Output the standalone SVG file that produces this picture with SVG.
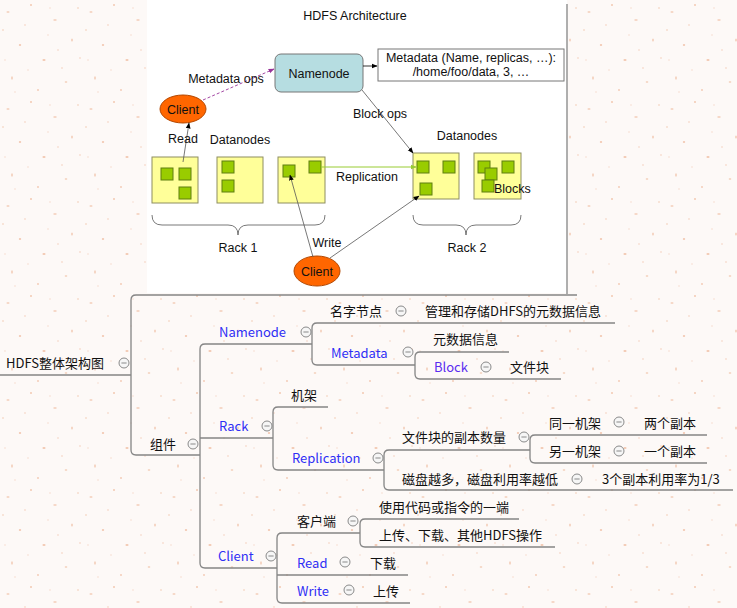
<svg xmlns="http://www.w3.org/2000/svg" width="737" height="608" viewBox="0 0 737 608">
<defs>
<pattern id="paper" x="0" y="0" width="83" height="97" patternUnits="userSpaceOnUse">
<rect width="83" height="97" fill="#fdf9f7"/>
<g fill="#f3c9b2">
<ellipse cx="8" cy="12" rx="1.6" ry="0.8"/>
<ellipse cx="31" cy="5" rx="1" ry="1"/>
<ellipse cx="55" cy="20" rx="1.8" ry="0.7"/>
<ellipse cx="72" cy="40" rx="0.8" ry="1.6"/>
<ellipse cx="20" cy="45" rx="1.2" ry="0.9"/>
<ellipse cx="44" cy="60" rx="1.6" ry="1"/>
<ellipse cx="12" cy="78" rx="0.8" ry="1.8"/>
<ellipse cx="66" cy="82" rx="1.3" ry="0.8"/>
<ellipse cx="38" cy="90" rx="0.9" ry="0.9"/>
<ellipse cx="78" cy="8" rx="0.8" ry="0.8"/>
<ellipse cx="3" cy="30" rx="0.8" ry="0.8"/>
<ellipse cx="58" cy="50" rx="0.7" ry="0.7"/>
</g>
<g fill="#f8ddd0">
<circle cx="25" cy="25" r="0.9"/><circle cx="48" cy="35" r="0.8"/><circle cx="62" cy="68" r="0.9"/>
<circle cx="28" cy="70" r="0.8"/><circle cx="80" cy="58" r="0.9"/><circle cx="5" cy="60" r="0.8"/>
<circle cx="50" cy="8" r="0.8"/><circle cx="15" cy="92" r="0.8"/>
</g>
</pattern>
<marker id="ah" viewBox="0 0 10 10" refX="9" refY="5" markerWidth="6" markerHeight="6" orient="auto" markerUnits="userSpaceOnUse">
<path d="M0,1 L10,5 L0,9 z" fill="#000"/>
</marker>
<marker id="ahp" viewBox="0 0 10 10" refX="9" refY="5" markerWidth="6" markerHeight="6" orient="auto" markerUnits="userSpaceOnUse">
<path d="M0,1 L10,5 L0,9 z" fill="#993399"/>
</marker>
<marker id="ahg" viewBox="0 0 10 10" refX="9" refY="5" markerWidth="6" markerHeight="6" orient="auto" markerUnits="userSpaceOnUse">
<path d="M0,1 L10,5 L0,9 z" fill="#99cc33"/>
</marker>
<symbol id="tog" overflow="visible">
<circle cx="0" cy="0" r="5" fill="#f6f6f6" stroke="#8a8a8a" stroke-width="1"/>
<line x1="-2.6" y1="0" x2="2.6" y2="0" stroke="#8a8a8a" stroke-width="1"/>
</symbol>
</defs>
<style>
.en{font-family:"Liberation Sans",Arial,sans-serif;font-size:12.5px;fill:#111}
.mm{font-family:"Noto Sans CJK SC","Noto Sans",sans-serif;font-size:13px;fill:#111}
.bl{fill:#2f2ff5}
.ln{fill:none;stroke:#858585;stroke-width:1.3}
.rk{fill:#ffff99;stroke:#8e8e60;stroke-width:1}
.bk{fill:#99cc00;stroke:#5f7f10;stroke-width:1}
.cl{fill:#ff6600;stroke:#b34700;stroke-width:1}
.th{fill:none;stroke:#555;stroke-width:0.8}
</style>
<rect width="737" height="608" fill="url(#paper)"/>

<!-- embedded architecture picture -->
<g id="hdfs-architecture">
<rect x="147" y="0" width="420" height="293" fill="#ffffff"/>
<text class="en" x="355" y="20" text-anchor="middle">HDFS Architecture</text>
<g id="namenode">
<rect x="275" y="54" width="88" height="38" rx="6" fill="#b6dde1" stroke="#777" stroke-width="1"/>
<text class="en" x="319" y="78" text-anchor="middle">Namenode</text>
</g>
<g id="metadata-box">
<rect x="378" y="49" width="186" height="32" fill="#fff" stroke="#777" stroke-width="1"/>
<text class="en" x="471" y="62" text-anchor="middle">Metadata (Name, replicas, …):</text>
<text class="en" x="471" y="76" text-anchor="middle">/home/foo/data, 3, …</text>
</g>
<g id="client-top">
<ellipse class="cl" cx="183" cy="109" rx="23" ry="14"/>
<text class="en" x="183" y="113.5" text-anchor="middle">Client</text>
</g>
<g id="client-bottom">
<ellipse class="cl" cx="317" cy="271" rx="23" ry="15"/>
<text class="en" x="317" y="275.5" text-anchor="middle">Client</text>
</g>
<g id="rack1">
<rect class="rk" x="152" y="157" width="46" height="46"/>
<rect class="bk" x="161" y="168" width="12" height="12"/>
<rect class="bk" x="179" y="168" width="12" height="12"/>
<rect class="bk" x="179" y="187" width="12" height="12"/>
<rect class="rk" x="217" y="157" width="46" height="46"/>
<rect class="bk" x="222" y="161" width="12" height="12"/>
<rect class="bk" x="222" y="180" width="12" height="12"/>
<rect class="rk" x="278" y="157" width="47" height="46"/>
<rect class="bk" x="283" y="165" width="12" height="12"/>
<rect class="bk" x="309" y="161" width="12" height="12"/>
<path class="th" stroke="#777" d="M152,215 Q152,225 162,225 H228 Q238,225 238,235 Q238,225 248,225 H315 Q325,225 325,215"/>
<text class="en" x="238" y="252" text-anchor="middle">Rack 1</text>
</g>
<g id="rack2">
<rect class="rk" x="413" y="153" width="46" height="46"/>
<rect class="bk" x="417" y="161" width="12" height="12"/>
<rect class="bk" x="443" y="161" width="12" height="12"/>
<rect class="bk" x="420" y="183" width="12" height="12"/>
<rect class="rk" x="474" y="153" width="47" height="46"/>
<rect class="bk" x="478" y="161" width="12" height="12"/>
<rect class="bk" x="502" y="161" width="12" height="12"/>
<rect class="bk" x="485" y="168" width="12" height="12"/>
<rect class="bk" x="482" y="180" width="12" height="12"/>
<text class="en" x="494" y="193">Blocks</text>
<path class="th" stroke="#777" d="M413,215 Q413,225 423,225 H456 Q466,225 466,235 Q466,225 476,225 H511 Q521,225 521,215"/>
<text class="en" x="467" y="252" text-anchor="middle">Rack 2</text>
</g>
<g id="arch-connectors">
<line x1="363" y1="66" x2="377" y2="66" stroke="#000" stroke-width="0.8" marker-end="url(#ah)"/>
<line x1="203" y1="100" x2="274" y2="69" stroke="#993399" stroke-width="0.9" stroke-dasharray="3,2" marker-end="url(#ahp)"/>
<line x1="362" y1="90" x2="413" y2="153" stroke="#555" stroke-width="0.8" marker-end="url(#ah)"/>
<line x1="183" y1="162" x2="189" y2="123" stroke="#555" stroke-width="0.8" marker-end="url(#ah)"/>
<line x1="321" y1="167" x2="416" y2="167" stroke="#99cc33" stroke-width="1" marker-end="url(#ahg)"/>
<line x1="313" y1="257" x2="290" y2="175" stroke="#555" stroke-width="0.8" marker-end="url(#ah)"/>
<line x1="330" y1="258" x2="419" y2="196" stroke="#555" stroke-width="0.8" marker-end="url(#ah)"/>
<text class="en" x="226" y="83" text-anchor="middle">Metadata ops</text>
<text class="en" x="380" y="118" text-anchor="middle">Block ops</text>
<text class="en" x="183" y="143" text-anchor="middle">Read</text>
<text class="en" x="240" y="144" text-anchor="middle">Datanodes</text>
<text class="en" x="467" y="140" text-anchor="middle">Datanodes</text>
<text class="en" x="367" y="181" text-anchor="middle">Replication</text>
<text class="en" x="327" y="247" text-anchor="middle">Write</text>
</g>
</g>

<!-- mind map connectors -->
<g id="connectors">
<path class="ln" d="M567,4 V294"/>
<path class="ln" d="M0,375 H131"/>
<path class="ln" d="M577,295 H136 Q131,295 131,300 V450 Q131,455 136,455 H200"/>
<path class="ln" d="M312,344 H205 Q200,344 200,349 V563 Q200,568 205,568 H277"/>
<path class="ln" d="M200,438 H273"/>
<path class="ln" d="M615,323 H317 Q312,323 312,328 V360 Q312,365 317,365 H415"/>
<path class="ln" d="M509,352 H420 Q415,352 415,357 V374 Q415,379 420,379 H561"/>
<path class="ln" d="M328,407 H278 Q273,407 273,412 V465 Q273,470 278,470 H384"/>
<path class="ln" d="M530,450 H389 Q384,450 384,455 V485 Q384,490 389,490 H733"/>
<path class="ln" d="M707,435 H535 Q530,435 530,440 V458 Q530,463 535,463 H707"/>
<path class="ln" d="M360,533 H282 Q277,533 277,538 V598 Q277,603 282,603 H410"/>
<path class="ln" d="M277,575 H408"/>
<path class="ln" d="M519,519 H365 Q360,519 360,524 V542 Q360,547 365,547 H555"/>
</g>

<g id="root"><text class="mm" x="6" y="368">HDFS整体架构图</text><use href="#tog" x="124" y="363"/></g>
<g id="zujian"><text class="mm" x="150" y="449">组件</text><use href="#tog" x="193" y="444"/></g>
<g id="mm-namenode"><text class="mm bl" x="219" y="337">Namenode</text><use href="#tog" x="306" y="332"/></g>
<g id="mingzi"><text class="mm" x="330" y="316">名字节点</text><use href="#tog" x="401" y="311"/></g>
<g id="guanli"><text class="mm" x="425" y="316">管理和存储DHFS的元数据信息</text></g>
<g id="mm-metadata"><text class="mm bl" x="331" y="358">Metadata</text><use href="#tog" x="408" y="352"/></g>
<g id="yuanshuju"><text class="mm" x="433" y="344">元数据信息</text></g>
<g id="mm-block"><text class="mm" x="434" y="372" fill="#5a2cf0" style="fill:#5a2cf0">Block</text><use href="#tog" x="486" y="367"/></g>
<g id="wenjiankuai"><text class="mm" x="510" y="372">文件块</text></g>
<g id="mm-rack"><text class="mm bl" x="219" y="431">Rack</text><use href="#tog" x="267" y="426"/></g>
<g id="jijia"><text class="mm" x="291" y="400">机架</text></g>
<g id="mm-replication"><text class="mm bl" x="292" y="463">Replication</text><use href="#tog" x="378" y="458"/></g>
<g id="fubenshuliang"><text class="mm" x="402" y="442">文件块的副本数量</text><use href="#tog" x="524" y="437"/></g>
<g id="tongyi"><text class="mm" x="549" y="428">同一机架</text><use href="#tog" x="619" y="422"/></g>
<g id="liangge"><text class="mm" x="644" y="428">两个副本</text></g>
<g id="lingyi"><text class="mm" x="549" y="456">另一机架</text><use href="#tog" x="619" y="451"/></g>
<g id="yige"><text class="mm" x="644" y="456">一个副本</text></g>
<g id="cipan"><text class="mm" x="402" y="484">磁盘越多，磁盘利用率越低</text><use href="#tog" x="577" y="479"/></g>
<g id="liyonglv"><text class="mm" x="602" y="484">3个副本利用率为1/3</text></g>
<g id="mm-client"><text class="mm bl" x="218" y="561">Client</text><use href="#tog" x="271" y="556"/></g>
<g id="kehuduan"><text class="mm" x="297" y="526">客户端</text><use href="#tog" x="353" y="521"/></g>
<g id="shiyong"><text class="mm" x="379" y="512">使用代码或指令的一端</text></g>
<g id="shangchuan-ops"><text class="mm" x="379" y="540">上传、下载、其他HDFS操作</text></g>
<g id="mm-read"><text class="mm bl" x="297" y="568">Read</text><use href="#tog" x="345" y="562"/></g>
<g id="xiazai"><text class="mm" x="370" y="568">下载</text></g>
<g id="mm-write"><text class="mm bl" x="297" y="596">Write</text><use href="#tog" x="349" y="590"/></g>
<g id="shangchuan"><text class="mm" x="373" y="596">上传</text></g>
</svg>
